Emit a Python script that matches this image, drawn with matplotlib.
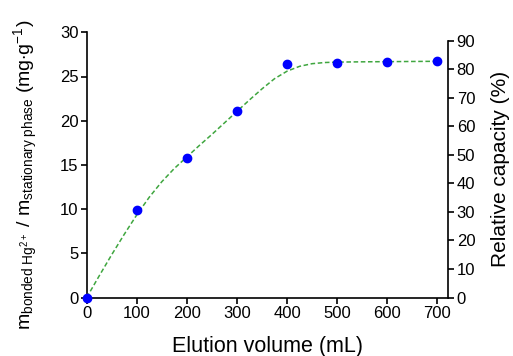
import matplotlib
matplotlib.use("Agg")
import matplotlib.pyplot as plt

plt.rcParams['font.family'] = ['Liberation Sans', 'DejaVu Sans']
plt.rcParams['mathtext.fontset'] = 'custom'
plt.rcParams['mathtext.rm'] = 'Liberation Sans'
plt.rcParams['mathtext.it'] = 'Liberation Sans:italic'

# data
volume = [0, 100, 200, 300, 400, 500, 600, 700]
capacity = [0, 9.95, 15.75, 21.1, 26.45, 26.55, 26.65, 26.7]
fit_volume = [0, 25, 50, 75, 100, 125, 150, 175, 200, 225, 250, 275, 300, 325,
              350, 375, 400, 425, 450, 475, 500, 550, 600, 650, 700]
fit_capacity = [0, 2.45, 4.85, 7.15, 9.35, 11.35, 13.1, 14.6, 15.9, 17.2, 18.45,
                19.75, 21.05, 22.35, 23.6, 24.75, 25.6, 26.15, 26.45, 26.58,
                26.63, 26.66, 26.68, 26.7, 26.72]
left_ticks = [0, 5, 10, 15, 20, 25, 30]
right_ticks = [0, 10, 20, 30, 40, 50, 60, 70, 80, 90]
x_ticks = [0, 100, 200, 300, 400, 500, 600, 700]

W, H = 513, 356
fig = plt.figure(figsize=(W / 100, H / 100), dpi=100)

x0, x1 = 86.7, 448.3
yb, yt_left, yt_right = 297.5, 32.3, 40.7
ax = fig.add_axes([x0 / W, (H - yb) / H, (x1 - x0) / W, (yb - yt_left) / H])
ax2 = fig.add_axes([x0 / W, (H - yb) / H, (x1 - x0) / W, (yb - yt_right) / H])

green = '#3fa63f'
ax.plot(fit_volume, fit_capacity, linestyle=(0, (3, 1.7)), color=green, lw=1.1, zorder=2)
ax.plot(volume, capacity, 'o', color='#0000ff', ms=6, zorder=3, clip_on=False)

ax.set_xlim(0, 722)
ax.set_ylim(0, 30)
ax.set_xticks(x_ticks)
ax.set_yticks(left_ticks)
for s in ['top', 'right']:
    ax.spines[s].set_visible(False)
ax.spines['left'].set_linewidth(1.2)
ax.spines['bottom'].set_linewidth(1.2)
ax.tick_params(direction='out', length=4, width=1.2, labelsize=12, pad=2)
ax.set_xlabel('Elution volume (mL)', fontsize=15.5, labelpad=11)
ax.set_ylabel(r'm$_{\mathrm{bonded\ Hg^{2+}}}$ / m$_{\mathrm{stationary\ phase}}$ (mg$\cdot$g$^{-1}$)',
              fontsize=14)
ax.yaxis.set_label_coords(-0.128, 0.462)

ax2.patch.set_visible(False)
ax2.set_xlim(0, 722)
ax2.set_ylim(0, 90)
ax2.set_yticks(right_ticks)
ax2.set_xticks([])
for s in ['top', 'left', 'bottom']:
    ax2.spines[s].set_visible(False)
ax2.spines['right'].set_linewidth(1.2)
ax2.yaxis.tick_right()
ax2.yaxis.set_label_position('right')
ax2.tick_params(direction='out', length=4, width=1.2, labelsize=12, pad=2)
ax2.set_ylabel('Relative capacity (%)', fontsize=15, labelpad=11)

fig.savefig('out.png', dpi=100)
